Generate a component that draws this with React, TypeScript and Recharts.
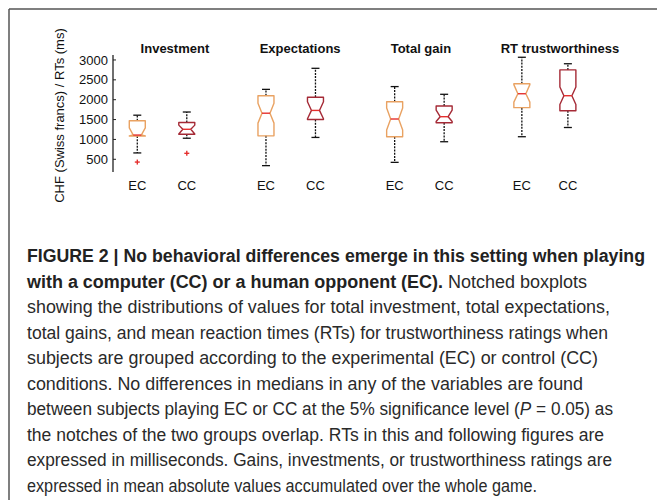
import React from 'react';
import { ComposedChart, Bar, Scatter, XAxis, YAxis, ReferenceLine } from 'recharts';

// ---- data ----
const groups = ['Investment', 'Expectations', 'Total gain', 'RT trustworthiness'];
const conditions = ['EC', 'CC'];
const whiskerLow = [660, 1030, 340, 1050, 423, 942, 1068, 1300];
const q1 = [1085, 1130, 1090, 1500, 1068, 1421, 1800, 1720];
const median = [1110, 1255, 1660, 1730, 1514, 1572, 2150, 2100];
const q3 = [1470, 1425, 2100, 2060, 1950, 1841, 2400, 2750];
const whiskerHigh = [1610, 1690, 2260, 2790, 2330, 2136, 3068, 2905];
const notchLow = [1085, 1135, 1410, 1520, 1240, 1450, 1940, 1880];
const notchHigh = [1290, 1360, 1910, 1950, 1790, 1740, 2380, 2320];
const outlierBox = [0, 1];
const outlierValue = [430, 650];
const yTicks = [500, 1000, 1500, 2000, 2500, 3000];

// ---- layout constants ----
const boxSlots = [0, 1, 2.6, 3.6, 5.2, 6.2, 7.77, 8.7];
const titleAnchors = [0.76, 3.29, 5.73, 8.54];

const EC_COLOR = '#E9A262';
const CC_COLOR = '#A52A36';
const MED_COLOR = '#E5302E';
const FONT = "'Liberation Sans', Arial, sans-serif";

const boxes = boxSlots.map((x, i) => ({
  x,
  group: groups[Math.floor(i / 2)],
  cond: conditions[i % 2],
  lo: whiskerLow[i],
  q1: q1[i],
  med: median[i],
  q3: q3[i],
  hi: whiskerHigh[i],
  nlo: notchLow[i],
  nhi: notchHigh[i],
}));

const outliers = outlierBox.map((b, i) => ({ x: boxSlots[b], y: outlierValue[i] }));

const BoxShape = (props: any) => {
  const { x, y, width, height, payload } = props;
  if (!payload) return null;
  const top = Math.min(y, y + height);
  const bottom = Math.max(y, y + height);
  const { lo, hi } = payload;
  const py = (v: number) => bottom - ((v - lo) / (hi - lo)) * (bottom - top);
  const cx = x + width / 2;
  const w = width / 2;
  const nw = w / 2;
  const color = payload.cond === 'EC' ? EC_COLOR : CC_COLOR;
  const pts = [
    [cx - w, py(payload.q1)],
    [cx - w, py(payload.nlo)],
    [cx - nw, py(payload.med)],
    [cx - w, py(payload.nhi)],
    [cx - w, py(payload.q3)],
    [cx + w, py(payload.q3)],
    [cx + w, py(payload.nhi)],
    [cx + nw, py(payload.med)],
    [cx + w, py(payload.nlo)],
    [cx + w, py(payload.q1)],
  ]
    .map((p) => p.join(','))
    .join(' ');
  return (
    <g>
      <line x1={cx} x2={cx} y1={py(payload.q3)} y2={py(hi)} stroke="#111" strokeWidth={1.3} strokeDasharray="2 1.2" />
      <line x1={cx} x2={cx} y1={py(payload.q1)} y2={py(lo)} stroke="#111" strokeWidth={1.3} strokeDasharray="2 1.2" />
      <line x1={cx - nw} x2={cx + nw} y1={py(hi)} y2={py(hi)} stroke="#111" strokeWidth={1.3} />
      <line x1={cx - nw} x2={cx + nw} y1={py(lo)} y2={py(lo)} stroke="#111" strokeWidth={1.3} />
      <polygon points={pts} fill="none" stroke={color} strokeWidth={1.4} strokeLinejoin="round" />
      <line x1={cx - nw} x2={cx + nw} y1={py(payload.med)} y2={py(payload.med)} stroke={MED_COLOR} strokeWidth={1.4} />
    </g>
  );
};

const PlusShape = (props: any) => {
  const { cx, cy } = props;
  return (
    <g>
      <line x1={cx - 2.5} x2={cx + 2.5} y1={cy} y2={cy} stroke={MED_COLOR} strokeWidth={1.4} />
      <line x1={cx} x2={cx} y1={cy - 2.5} y2={cy + 2.5} stroke={MED_COLOR} strokeWidth={1.4} />
    </g>
  );
};

const YTick = (props: any) => {
  const { x, y, payload } = props;
  return (
    <g>
      <text x={x} y={y} dy={4.6} textAnchor="end" fontSize={13} fontFamily={FONT} fill="#111">
        {payload.value}
      </text>
      <line x1={x + 5} x2={x + 8} y1={y} y2={y} stroke="#222" strokeWidth={1} />
    </g>
  );
};

const XTick = (props: any) => {
  const { x, y, index } = props;
  return (
    <text x={x} y={y} dy={9.5} textAnchor="middle" fontSize={13} fontFamily={FONT} fill="#111">
      {conditions[index % 2]}
    </text>
  );
};

const YLabel = (props: any) => {
  const vb = props.viewBox || { x: 53, y: 55, width: 60, height: 117 };
  const lx = vb.x + 11;
  const ly = vb.y + vb.height / 2 + 2;
  return (
    <text
      x={lx}
      y={ly}
      transform={`rotate(-90, ${lx}, ${ly})`}
      textAnchor="middle"
      fontSize={13}
      fontFamily={FONT}
      fill="#111"
    >
      CHF (Swiss francs) / RTs (ms)
    </text>
  );
};

// ---- caption ----
const captionBold1 = 'FIGURE 2 | No behavioral differences emerge in this setting when playing';
const captionBold2 = 'with a computer (CC) or a human opponent (EC).';
const captionTail2 = 'Notched boxplots';
const captionLines = [
  'showing the distributions of values for total investment, total expectations,',
  'total gains, and mean reaction times (RTs) for trustworthiness ratings when',
  'subjects are grouped according to the experimental (EC) or control (CC)',
  'conditions. No differences in medians in any of the variables are found',
  'between subjects playing EC or CC at the 5% significance level (|P| = 0.05) as',
  'the notches of the two groups overlap. RTs in this and following figures are',
  'expressed in milliseconds. Gains, investments, or trustworthiness ratings are',
  'expressed in mean absolute values accumulated over the whole game.',
];
const captionLineEnds = [610, 608, 598, 583, 613, 604, 612, 537];

const CAP_X = 27;
const CAP_Y0 = 262;
const CAP_DY = 25.5;
const CAP_FS = 17.5;

const renderLine = (s: string) => {
  const parts = s.split('|');
  if (parts.length === 1) return s;
  return parts.map((p, i) =>
    i === 1 ? (
      <tspan key={i} fontStyle="italic">
        {p}
      </tspan>
    ) : (
      <tspan key={i}>{p}</tspan>
    )
  );
};

export default function App() {
  return (
    <div style={{ position: 'absolute', left: 0, top: 0, width: 657, height: 500, background: '#fff' }}>
      <div style={{ position: 'absolute', left: 0, top: 0 }}>
        <ComposedChart width={657} height={215} data={boxes} margin={{ top: 55, right: 50, bottom: 23, left: 53 }}>
          <XAxis
            dataKey="x"
            type="number"
            domain={[-0.491, 9.49]}
            allowDataOverflow
            ticks={boxSlots}
            interval={0}
            axisLine={false}
            tickLine={false}
            tickSize={0}
            tickMargin={8}
            height={20}
            tick={<XTick />}
          />
          <YAxis
            type="number"
            domain={[180, 3125]}
            allowDataOverflow
            ticks={yTicks}
            interval={0}
            width={60}
            tickLine={false}
            tickSize={0}
            tickMargin={5}
            axisLine={{ stroke: '#222', strokeWidth: 1.3 }}
            tick={<YTick />}
            label={<YLabel />}
          />
          {groups.map((g, i) => (
            <ReferenceLine
              key={g}
              x={titleAnchors[i]}
              stroke="none"
              ifOverflow="visible"
              label={{ value: g, position: 'top', offset: 2, fontSize: 13, fontWeight: 'bold', fill: '#111', fontFamily: FONT }}
            />
          ))}
          <Bar dataKey={(d: any) => [d.lo, d.hi]} barSize={16} shape={<BoxShape />} isAnimationActive={false} />
          <Scatter data={outliers} dataKey="y" shape={<PlusShape />} isAnimationActive={false} />
        </ComposedChart>
      </div>
      <svg width={657} height={500} style={{ position: 'absolute', left: 0, top: 0, pointerEvents: 'none' }}>
        <line x1={9} x2={657} y1={9} y2={9} stroke="#555" strokeWidth={1.5} />
        <line x1={9} x2={9} y1={9} y2={500} stroke="#555" strokeWidth={1.5} />
        <text x={CAP_X} y={CAP_Y0} fontSize={CAP_FS} fontFamily={FONT} fontWeight="bold" fill="#222" textLength={618} lengthAdjust="spacingAndGlyphs">
          {captionBold1}
        </text>
        <text x={CAP_X} y={CAP_Y0 + CAP_DY} fontSize={CAP_FS} fontFamily={FONT} fontWeight="bold" fill="#222" textLength={416} lengthAdjust="spacingAndGlyphs">
          {captionBold2}
        </text>
        <text x={448} y={CAP_Y0 + CAP_DY} fontSize={CAP_FS} fontFamily={FONT} fill="#2a2a2a" textLength={139} lengthAdjust="spacingAndGlyphs">
          {captionTail2}
        </text>
        {captionLines.map((s, i) => (
          <text
            key={i}
            x={CAP_X}
            y={CAP_Y0 + CAP_DY * (i + 2)}
            fontSize={CAP_FS}
            fontFamily={FONT}
            fill="#2a2a2a"
            textLength={captionLineEnds[i] - CAP_X}
            lengthAdjust="spacingAndGlyphs"
          >
            {renderLine(s)}
          </text>
        ))}
      </svg>
    </div>
  );
}
